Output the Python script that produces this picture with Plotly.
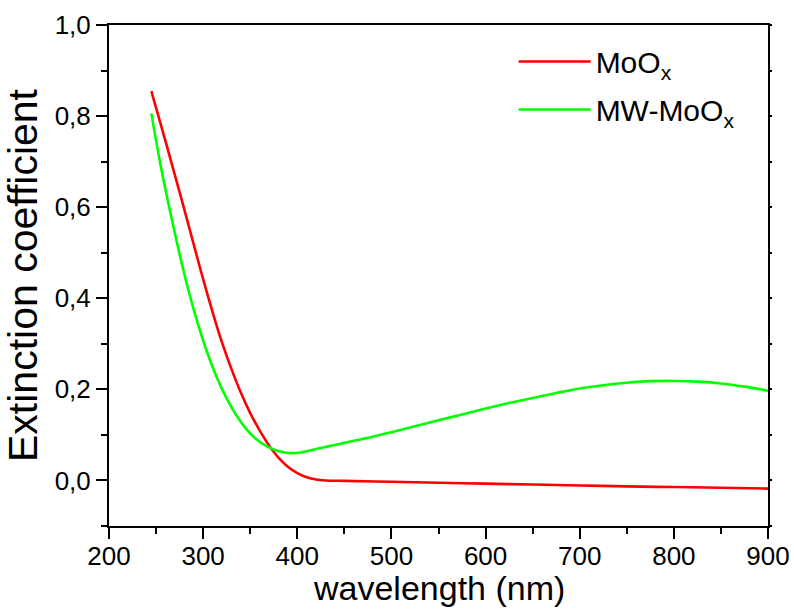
import plotly.graph_objects as go

# Extinction coefficient spectra
wl_moox = [245, 260, 275, 290, 300, 310, 320, 330, 340, 350, 360, 370, 380, 390, 400,
           410, 420, 430, 450, 500, 550, 600, 650, 700, 750, 800, 850, 900]
k_moox = [0.855, 0.745, 0.633, 0.518, 0.442, 0.370, 0.303, 0.245, 0.193, 0.148, 0.110,
          0.077, 0.050, 0.030, 0.016, 0.007, 0.002, 0.000, -0.001, -0.003, -0.005,
          -0.007, -0.009, -0.011, -0.013, -0.0145, -0.016, -0.018]

wl_mw = [245, 255, 265, 275, 285, 295, 305, 315, 325, 335, 345, 355, 365, 375, 385,
         395, 405, 420, 440, 460, 480, 500, 525, 550, 575, 600, 625, 650, 675, 700,
         725, 750, 775, 800, 825, 850, 875, 900]
k_mw = [0.806, 0.690, 0.590, 0.497, 0.413, 0.340, 0.277, 0.224, 0.180, 0.144, 0.115,
        0.093, 0.078, 0.068, 0.062, 0.060, 0.062, 0.069, 0.078, 0.087, 0.096, 0.106,
        0.119, 0.132, 0.145, 0.158, 0.170, 0.181, 0.192, 0.202, 0.209, 0.2145, 0.218,
        0.2185, 0.217, 0.213, 0.206, 0.197]

FONT = "Liberation Sans, Arial, sans-serif"

fig = go.Figure()
fig.add_trace(go.Scatter(x=wl_moox, y=k_moox, mode="lines", name="MoO<sub>x</sub>",
                         legendgroup="a",
                         line=dict(color="#ff0000", width=2.6, shape="spline", smoothing=1)))
fig.add_trace(go.Scatter(x=wl_mw, y=k_mw, mode="lines", name="MW-MoO<sub>x</sub>",
                         legendgroup="b",
                         line=dict(color="#00ff00", width=2.6, shape="spline", smoothing=1)))

# invisible trace carrying the small right-hand ticks
fig.add_trace(go.Scatter(x=[200], y=[0], yaxis="y2", mode="lines", showlegend=False,
                         hoverinfo="skip", line=dict(color="rgba(0,0,0,0)")))

fig.update_layout(
    width=794, height=611,
    margin=dict(l=109, r=26, t=25, b=85, autoexpand=False),
    paper_bgcolor="white", plot_bgcolor="white",
    separators=",.",
    font=dict(family=FONT, color="black", size=26),
    showlegend=True,
    legend=dict(x=0.614, y=0.979, xanchor="left", yanchor="top",
                bgcolor="rgba(0,0,0,0)", borderwidth=0, tracegroupgap=6,
                font=dict(family=FONT, size=30, color="black"),
                itemwidth=72),
    xaxis=dict(range=[200, 900], dtick=100, tick0=200, automargin=False,
               showline=True, linecolor="black", linewidth=2, mirror=True,
               ticks="outside", ticklen=11, tickwidth=2, tickcolor="black",
               minor=dict(dtick=50, ticks="outside", ticklen=6, tickwidth=2, tickcolor="black"),
               showgrid=False, zeroline=False, ticklabelstandoff=-5,
               tickfont=dict(size=26)),
    yaxis=dict(range=[-0.1, 1.0], dtick=0.2, tick0=0, tickformat=".1f", automargin=False,
               showline=True, linecolor="black", linewidth=2, mirror=True,
               ticks="outside", ticklen=11, tickwidth=2, tickcolor="black",
               minor=dict(dtick=0.1, ticks="outside", ticklen=6, tickwidth=2, tickcolor="black"),
               showgrid=False, zeroline=False,
               tickfont=dict(size=26),
               title=dict(text="Extinction coefficient", font=dict(size=41), standoff=6)),
    yaxis2=dict(range=[-0.1, 1.0], dtick=0.1, tick0=0, overlaying="y", side="right",
                automargin=False,
                showticklabels=False, ticks="outside", ticklen=3, tickwidth=2,
                tickcolor="black", showgrid=False, zeroline=False, showline=False),
    annotations=[dict(text="wavelength (nm)", x=0.5, xref="paper", y=-0.124, yref="paper",
                      xanchor="center", yanchor="middle", showarrow=False,
                      font=dict(family=FONT, size=34, color="black"))],
)

fig.write_html("out.html")
